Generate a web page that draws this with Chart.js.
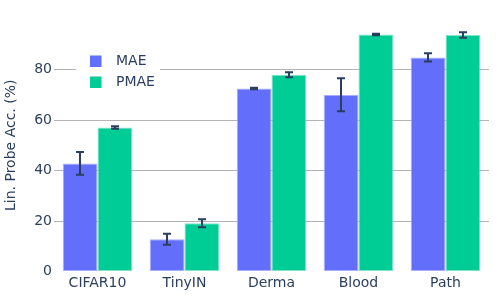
<!DOCTYPE html>
<html>
<head>
<meta charset="utf-8">
<script src="https://cdn.jsdelivr.net/npm/chart.js@4"></script>
<style>
html,body{margin:0;padding:0;background:#fff;}
#wrap{width:500px;height:300px;}
</style>
</head>
<body>
<div id="wrap"><canvas id="c" width="500" height="300"></canvas></div>
<script>
const categories = ['CIFAR10', 'TinyIN', 'Derma', 'Blood', 'Path'];
const maeValues = [42.8, 12.8, 72.5, 70.0, 84.8];
const maeErrors = [4.5, 2.2, 0.3, 6.5, 1.6];
const pmaeValues = [57.0, 19.1, 77.9, 93.9, 93.7];
const pmaeErrors = [0.5, 1.6, 1.0, 0.3, 1.1];
const yTicks = [0, 20, 40, 60, 80];
const seriesNames = ['MAE', 'PMAE'];
const seriesColors = ['#636EFA', '#00CC96'];
const edgeColors = ['#aab0fc', '#80e3c8'];
const textColor = '#2a3f5f';
const FONT = 'DejaVu Sans';

const errorLists = [maeErrors, pmaeErrors];

const errorBarPlugin = {
  id: 'errorBars',
  afterDatasetsDraw(chart) {
    const ctx = chart.ctx;
    const yScale = chart.scales.y;
    ctx.save();
    ctx.strokeStyle = textColor;
    ctx.lineWidth = 2;
    chart.data.datasets.forEach((ds, di) => {
      const meta = chart.getDatasetMeta(di);
      meta.data.forEach((bar, i) => {
        const v = ds.data[i];
        const e = errorLists[di][i];
        const x = Math.round(bar.x);
        const yTop = yScale.getPixelForValue(v + e);
        const yBot = yScale.getPixelForValue(v - e);
        const cap = 4;
        ctx.beginPath();
        ctx.moveTo(x, yTop); ctx.lineTo(x, yBot);
        ctx.moveTo(x - cap, yTop); ctx.lineTo(x + cap, yTop);
        ctx.moveTo(x - cap, yBot); ctx.lineTo(x + cap, yBot);
        ctx.stroke();
      });
    });
    ctx.restore();
  }
};

const legendPlugin = {
  id: 'customLegend',
  beforeDatasetsDraw(chart) {
    const ctx = chart.ctx;
    ctx.save();
    ctx.fillStyle = '#ffffff';
    ctx.fillRect(76, 46, 84, 48);
    const rows = [61, 82];
    seriesNames.forEach((name, i) => {
      ctx.fillStyle = seriesColors[i];
      ctx.fillRect(90, rows[i] - 5.5, 11.5, 11.5);
      ctx.fillStyle = textColor;
      ctx.font = '14px "' + FONT + '"';
      ctx.textBaseline = 'middle';
      ctx.textAlign = 'left';
      ctx.fillText(name, 116, rows[i] + 0.5);
    });
    ctx.restore();
  }
};

new Chart(document.getElementById('c'), {
  type: 'bar',
  data: {
    labels: categories,
    datasets: [
      { label: seriesNames[0], data: maeValues, backgroundColor: seriesColors[0],
        borderColor: edgeColors[0], borderWidth: 1, borderSkipped: false,
        categoryPercentage: 0.8, barPercentage: 1.0 },
      { label: seriesNames[1], data: pmaeValues, backgroundColor: seriesColors[1],
        borderColor: edgeColors[1], borderWidth: 1, borderSkipped: false,
        categoryPercentage: 0.8, barPercentage: 1.0 }
    ]
  },
  options: {
    responsive: false,
    devicePixelRatio: 1,
    animation: false,
    layout: { padding: { left: 0, right: 11, top: 19, bottom: 0 } },
    plugins: { legend: { display: false }, tooltip: { enabled: false } },
    scales: {
      x: {
        grid: { display: false, drawTicks: false },
        border: { display: false },
        ticks: { color: textColor, font: { family: FONT, size: 14 }, padding: 3, maxRotation: 0 },
        afterFit(s) { s.height = 28.5; }
      },
      y: {
        min: 0, max: 100,
        afterBuildTicks(s) { s.ticks = yTicks.map(v => ({ value: v })); },
        grid: {
          color: c => (c.tick && c.tick.value === 0) ? 'rgba(0,0,0,0)' : '#b4b4b4',
          lineWidth: 1,
          drawTicks: false
        },
        border: { display: false },
        ticks: { color: textColor, font: { family: FONT, size: 14 }, padding: 2 },
        title: { display: true, text: 'Lin. Probe Acc. (%)', color: textColor,
                 font: { family: FONT, size: 14 }, padding: { top: 3, bottom: 0 } },
        afterFit(s) { s.width = 54; }
      }
    }
  },
  plugins: [legendPlugin, errorBarPlugin]
});
</script>
</body>
</html>
